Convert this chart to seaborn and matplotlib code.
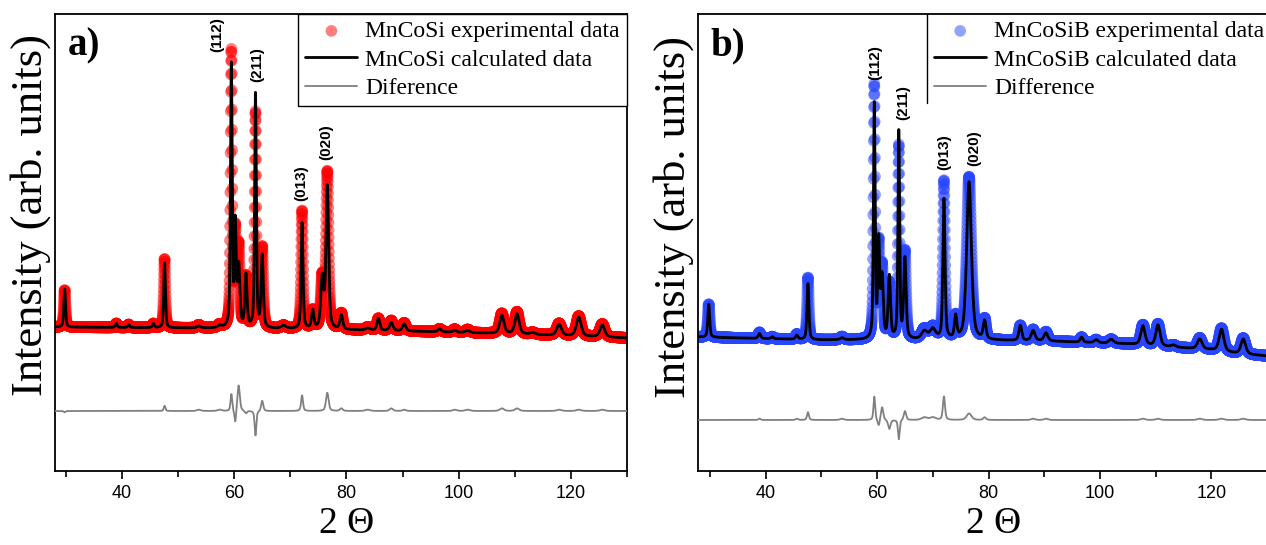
"""Rietveld refinement plots for MnCoSi and MnCoSiB (XRD, 2 theta)"""

import numpy as np
import matplotlib
matplotlib.use("Agg")
import matplotlib.pyplot as plt
import seaborn as sns


# --- peak tables: position (2theta), fwhm, exp height, calc height ---
a_peak_pos = [29.8, 39.0, 41.2, 45.6, 47.6, 53.7, 57.4, 59.5, 60.2, 60.8, 62.1, 63.8, 65.0,
              68.8, 72.1, 74.0, 75.7, 76.6, 79.1, 83.8, 85.7, 88.0, 90.3, 96.6, 99.3, 101.6,
              107.7, 110.4, 113.2, 117.9, 121.4, 125.6]
a_peak_fwhm = [0.35, 0.4, 0.4, 0.4, 0.35, 0.8, 0.8, 0.35, 0.35, 0.5, 0.45, 0.35, 0.45,
               1.0, 0.4, 0.5, 0.6, 0.55, 0.6, 1.0, 0.6, 0.7, 0.7, 0.8, 0.8, 1.0,
               0.9, 0.9, 1.0, 1.0, 1.0, 1.0]
a_exp_height = [37, 4, 3, 4, 69, 3, 3, 275, 90, 80, 50, 215, 80,
                3, 118, 18, 50, 156, 16, 3, 12, 10, 8, 3, 3, 3,
                20, 22, 2, 12, 20, 13]
a_calc_height = [38, 4, 3, 4, 65, 2, 2, 262, 100, 60, 52, 234, 72,
                 3, 106, 18, 50, 142, 14, 2, 12, 8, 7, 3, 2, 2,
                 18, 20, 2, 11, 19, 12]
a_bg_x = [28, 50, 70, 90, 110, 130]
a_bg_y = [144, 143, 142, 140, 137, 133]
a_diff_offset = 60

b_peak_pos = [29.8, 38.9, 41.2, 45.6, 47.6, 53.7, 59.5, 60.3, 60.9, 62.2, 63.9, 65.0,
              68.5, 70.0, 72.0, 74.1, 76.5, 79.3, 85.7, 88.0, 90.3, 96.7, 99.3, 102.0,
              107.7, 110.4, 113.2, 117.9, 121.8, 125.7]
b_peak_fwhm = [0.4, 0.5, 0.5, 0.5, 0.4, 0.8, 0.35, 0.4, 0.5, 0.5, 0.35, 0.5,
               1.2, 1.2, 0.45, 0.5, 1.0, 0.6, 0.6, 0.8, 0.8, 0.6, 0.8, 1.0,
               0.9, 0.9, 1.0, 1.0, 1.0, 1.0]
b_exp_height = [33, 6, 2, 5, 62, 3, 252, 90, 70, 55, 192, 87,
                10, 12, 158, 22, 163, 20, 15, 11, 9, 5, 3, 4,
                20, 22, 2, 11, 23, 16]
b_calc_height = [33, 5, 2, 4, 56, 2, 234, 95, 60, 62, 207, 80,
                 8, 10, 140, 22, 158, 18, 15, 10, 8, 5, 3, 4,
                 19, 21, 2, 10, 22, 15]
b_bg_x = [28, 50, 70, 90, 105, 115, 120, 125, 130]
b_bg_y = [134, 131, 131, 130, 127, 123, 121, 117, 115]
b_diff_offset = 51

# hkl labels: text, x (2theta), bottom of text (intensity)
a_hkl = [("(112)", 57.0, 419), ("(211)", 64.1, 389), ("(013)", 72.0, 270), ("(020)", 76.4, 311)]
b_hkl = [("(112)", 59.6, 391), ("(211)", 64.7, 351), ("(013)", 72.0, 301), ("(020)", 77.4, 305)]

two_theta = np.arange(28.0, 130.6, 0.02)

SERIF = "Liberation Serif"
SANS = "Liberation Sans"


def pseudo_voigt(x, pos, fwhm, height, eta=0.5):
    hw = fwhm / 2.0
    u = (x - pos) / hw
    return height * (eta / (1.0 + u ** 2) + (1.0 - eta) * np.exp(-np.log(2) * u ** 2))


def pattern(pos, fwhm, heights, bg_x, bg_y):
    y = np.interp(two_theta, bg_x, bg_y)
    for p, w, h in zip(pos, fwhm, heights):
        y = y + pseudo_voigt(two_theta, p, w, h)
    return y


def draw_panel(ax, name, diff_name, letter, color, pos, fwhm, h_exp, h_calc,
               bg_x, bg_y, diff_offset, hkl, xlim, boxed):
    exp = pattern(pos, fwhm, h_exp, bg_x, bg_y)
    calc = pattern(pos, fwhm, h_calc, bg_x, bg_y)
    diff = 1.3 * (exp - calc) + diff_offset

    sns.scatterplot(x=two_theta, y=exp, s=70, color=color, alpha=0.5, edgecolor="none",
                    linewidth=0, label=f"{name} experimental data", ax=ax, zorder=2)
    sns.lineplot(x=two_theta, y=calc, color="black", linewidth=2.0, estimator=None, sort=False,
                 label=f"{name} calculated data", ax=ax, zorder=3)
    sns.lineplot(x=two_theta, y=diff, color="#808080", linewidth=1.3, estimator=None, sort=False,
                 label=diff_name, ax=ax, zorder=3)

    for text, x, y in hkl:
        ax.text(x, y, text, rotation=90, ha="center", va="bottom", fontsize=11,
                fontweight="bold", family=SANS)

    ax.text(0.022, 0.93, letter, transform=ax.transAxes, fontsize=28, fontweight="bold",
            family=SERIF, va="center", ha="left")

    ax.set_xlim(*xlim)
    ax.set_ylim(0, 457.5)
    ax.set_yticks([])
    ax.set_xticks([40, 60, 80, 100, 120])
    ax.set_xticks([30, 50, 70, 90, 110, 130], minor=True)
    ax.tick_params(axis="x", which="major", direction="out", length=6, width=1.2,
                   labelsize=13, pad=4, colors="black")
    ax.tick_params(axis="x", which="minor", direction="out", length=4, width=1.2, colors="black")
    for lab in ax.get_xticklabels():
        lab.set_family(SANS)
    for side in ax.spines.values():
        side.set_linewidth(1.3)
        side.set_color("black")

    ax.set_xlabel("2 \u0398", family=SERIF, fontsize=27)
    ax.set_ylabel("Intensity (arb. units)", family=SERIF, fontsize=32)

    handles, labels = ax.get_legend_handles_labels()
    legend_kw = dict(prop={"family": SERIF, "size": 17}, handlelength=2.2, handletextpad=0.34,
                     labelspacing=0.3, borderpad=0.3, borderaxespad=0)
    if boxed:
        leg = ax.legend(handles, labels, loc="upper right", frameon=True, fancybox=False,
                        edgecolor="black", framealpha=1, **legend_kw)
        leg.get_frame().set_linewidth(1.0)
    else:
        ax.legend(handles, labels, loc="upper left", bbox_to_anchor=(0.401, 1.0),
                  frameon=False, **legend_kw)
        ax.plot([0.401, 0.401], [0.805, 1.0], transform=ax.transAxes, color="black", lw=1.0)
        ax.spines["right"].set_visible(False)


sns.set_style("ticks")
plt.rcParams["font.family"] = [SERIF, "DejaVu Sans"]
plt.rcParams["text.color"] = "black"
plt.rcParams["axes.labelcolor"] = "black"

fig = plt.figure(figsize=(12.66, 5.45), dpi=100)
ax_a = fig.add_axes([55.4 / 1266, 74 / 545, (627 - 55.4) / 1266, 457.5 / 545])
ax_b = fig.add_axes([697.6 / 1266, 74 / 545, (1270 - 697.6) / 1266, 457.5 / 545])

draw_panel(ax_a, "MnCoSi", "Diference", "a)", "#ff0000", a_peak_pos, a_peak_fwhm,
           a_exp_height, a_calc_height, a_bg_x, a_bg_y, a_diff_offset, a_hkl,
           (28.15, 129.9), boxed=True)
draw_panel(ax_b, "MnCoSiB", "Difference", "b)", "#2846ff", b_peak_pos, b_peak_fwhm,
           b_exp_height, b_calc_height, b_bg_x, b_bg_y, b_diff_offset, b_hkl,
           (27.8, 130.5), boxed=False)

ax_a.yaxis.set_label_coords(-0.008, 0.56)
ax_b.yaxis.set_label_coords(-0.007, 0.555)
ax_a.xaxis.set_label_coords(0.509, -0.078)
ax_b.xaxis.set_label_coords(0.517, -0.078)

fig.savefig("out.png", dpi=100)
